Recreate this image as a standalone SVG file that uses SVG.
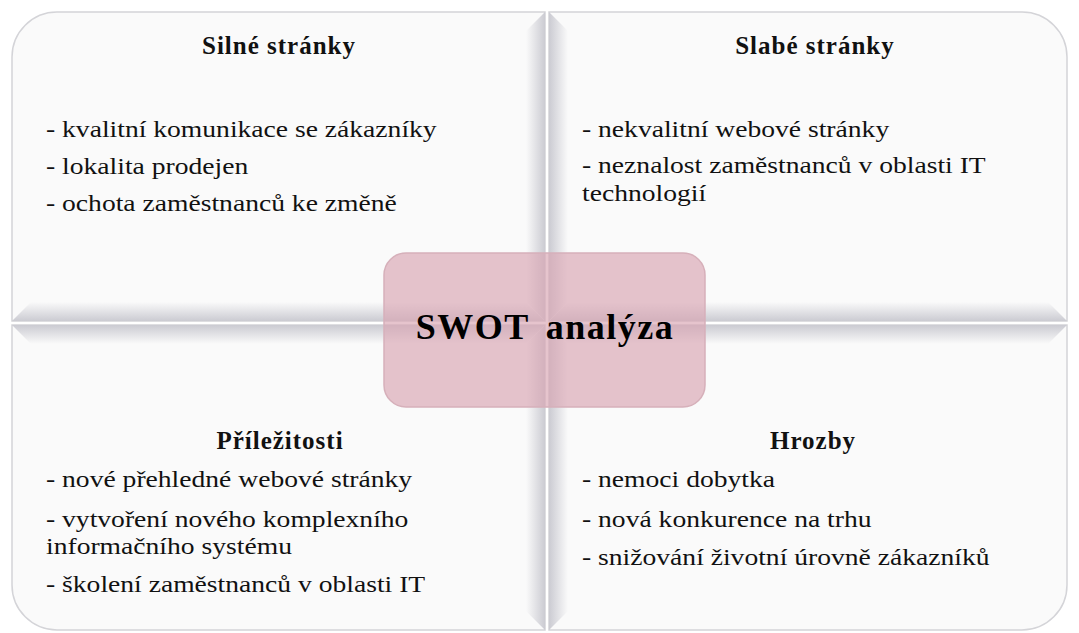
<svg xmlns="http://www.w3.org/2000/svg" width="1079" height="633" viewBox="0 0 1079 633">
<style>
.q{fill:#fafafa;stroke:#d4d4d8;stroke-width:1.5}
.h{font-family:"Liberation Serif",serif;font-weight:bold;font-size:25px;letter-spacing:1px;fill:#111;text-anchor:middle}
.t{font-family:"Liberation Serif",serif;font-size:23px;fill:#111}
.c{font-family:"Liberation Serif",serif;font-weight:bold;font-size:36px;letter-spacing:1.5px;word-spacing:6px;fill:#000;text-anchor:middle}
</style>
<defs>
<linearGradient id="gR" x1="0" y1="0" x2="1" y2="0"><stop offset="0" stop-color="#fafafa"/><stop offset="1" stop-color="#cbcbd2"/></linearGradient>
<linearGradient id="gL" x1="0" y1="0" x2="1" y2="0"><stop offset="0" stop-color="#cbcbd2"/><stop offset="1" stop-color="#fafafa"/></linearGradient>
<linearGradient id="gB" x1="0" y1="0" x2="0" y2="1"><stop offset="0" stop-color="#fafafa"/><stop offset="1" stop-color="#cbcbd2"/></linearGradient>
<linearGradient id="gT" x1="0" y1="0" x2="0" y2="1"><stop offset="0" stop-color="#cbcbd2"/><stop offset="1" stop-color="#fafafa"/></linearGradient>
</defs>
<rect x="0" y="0" width="1079" height="633" fill="#ffffff"/>

<g id="strengths">
<path class="q" d="M12,57 A45,45 0 0 1 57,12 L545,12 L545,321 L12,321 Z"/>
<polygon points="526,31 545,12 545,321 526,302" fill="url(#gR)"/>
<polygon points="12,321 31,302 526,302 545,321" fill="url(#gB)"/>
<text class="h" x="279" y="54">Silné stránky</text>
<text class="t" transform="matrix(1.2 0 0 1 46 137)">- kvalitní komunikace se zákazníky</text>
<text class="t" transform="matrix(1.2 0 0 1 46 174)">- lokalita prodejen</text>
<text class="t" transform="matrix(1.2 0 0 1 46 211)">- ochota zaměstnanců ke změně</text>
</g>

<g id="weaknesses">
<path class="q" d="M549,12 L1022,12 A45,45 0 0 1 1067,57 L1067,321 L549,321 Z"/>
<polygon points="549,12 568,31 568,302 549,321" fill="url(#gL)"/>
<polygon points="549,321 568,302 1048,302 1067,321" fill="url(#gB)"/>
<text class="h" x="815" y="54">Slabé stránky</text>
<text class="t" transform="matrix(1.2 0 0 1 582 137)">- nekvalitní webové stránky</text>
<text class="t" transform="matrix(1.2 0 0 1 582 173)">- neznalost zaměstnanců v oblasti IT</text>
<text class="t" transform="matrix(1.2 0 0 1 582 201)">technologií</text>
</g>

<g id="opportunities">
<path class="q" d="M12,325 L545,325 L545,630 L57,630 A45,45 0 0 1 12,585 Z"/>
<polygon points="12,325 545,325 526,344 31,344" fill="url(#gT)"/>
<polygon points="526,344 545,325 545,630 526,611" fill="url(#gR)"/>
<text class="h" x="280" y="449">Příležitosti</text>
<text class="t" transform="matrix(1.2 0 0 1 46 487)">- nové přehledné webové stránky</text>
<text class="t" transform="matrix(1.2 0 0 1 46 527)">- vytvoření nového komplexního</text>
<text class="t" transform="matrix(1.2 0 0 1 46 554)">informačního systému</text>
<text class="t" transform="matrix(1.2 0 0 1 46 592)">- školení zaměstnanců v oblasti IT</text>
</g>

<g id="threats">
<path class="q" d="M549,325 L1067,325 L1067,585 A45,45 0 0 1 1022,630 L549,630 Z"/>
<polygon points="549,325 1067,325 1048,344 568,344" fill="url(#gT)"/>
<polygon points="549,325 568,344 568,611 549,630" fill="url(#gL)"/>
<text class="h" x="813" y="449">Hrozby</text>
<text class="t" transform="matrix(1.2 0 0 1 582 487)">- nemoci dobytka</text>
<text class="t" transform="matrix(1.2 0 0 1 582 527)">- nová konkurence na trhu</text>
<text class="t" transform="matrix(1.2 0 0 1 582 565)">- snižování životní úrovně zákazníků</text>
</g>

<g id="center">
<rect x="384" y="253" width="321" height="154" rx="22" fill="#d9a5b2" fill-opacity="0.65" stroke="#d6b0ba" stroke-width="1.5"/>
<text class="c" x="545" y="339">SWOT analýza</text>
</g>
</svg>
